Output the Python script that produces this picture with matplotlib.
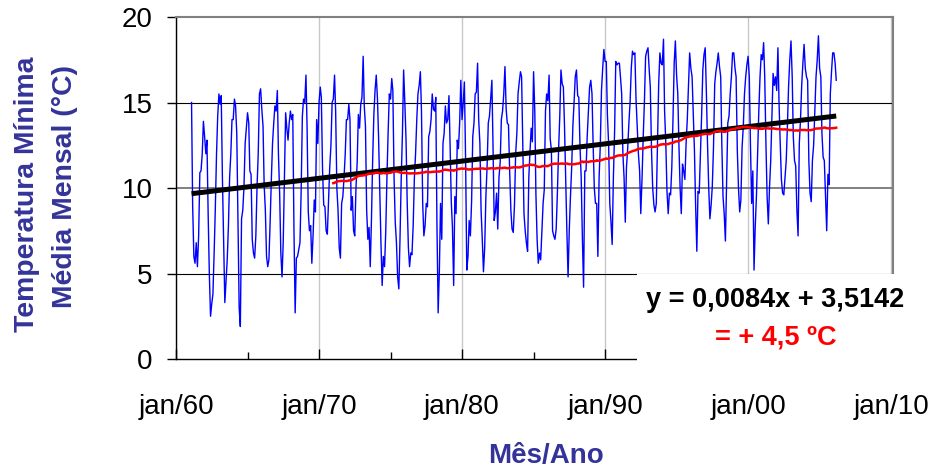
import numpy as np
import pandas as pd
import matplotlib
matplotlib.use('Agg')
import matplotlib.pyplot as plt
from matplotlib.patches import Rectangle

# temperatura minima media mensal (graus C), fev/1961 a mar/2006
tmin_1961_1970 = [
    15.0, 9.0, 6.0, 5.6, 6.8, 5.4, 7.2, 10.9, 11.0, 12.0, 13.9,           # 1961 (fev-dez)
    13.0, 12.0, 12.8, 8.5, 5.0, 2.5, 3.2, 3.8, 6.2, 8.8, 12.0, 14.2,      # 1962
    15.5, 14.9, 15.4, 10.5, 6.8, 3.3, 4.5, 5.8, 7.8, 10.6, 12.0, 14.0,    # 1963
    14.0, 15.2, 14.8, 13.2, 8.0, 3.0, 1.9, 8.2, 8.7, 10.0, 12.6, 13.5,    # 1964
    14.4, 13.8, 11.0, 10.8, 7.0, 6.2, 5.9, 7.2, 10.1, 12.0, 15.5, 15.8,   # 1965
    14.6, 13.6, 10.2, 8.7, 6.0, 5.4, 5.8, 8.0, 10.5, 12.6, 13.8, 14.8,    # 1966
    14.5, 15.7, 12.0, 9.7, 6.2, 4.8, 6.8, 10.5, 14.4, 13.5, 12.8, 13.8,   # 1967
    14.5, 14.0, 14.3, 7.5, 2.7, 5.9, 6.0, 6.4, 6.8, 9.8, 14.2, 15.2,      # 1968
    15.0, 16.6, 13.6, 8.6, 7.5, 7.8, 5.6, 7.2, 9.3, 8.6, 14.0, 12.6,      # 1969
    15.0, 15.9, 15.3, 11.0, 9.0, 8.9, 7.5, 7.3, 9.3, 11.2, 12.5, 15.0,    # 1970
]
tmin_1971_1980 = [
    15.2, 16.6, 14.5, 10.0, 8.7, 6.5, 5.9, 9.1, 9.5, 10.6, 12.0, 14.0,
    14.0, 14.9, 14.0, 8.7, 9.5, 7.5, 7.2, 10.0, 11.5, 14.3, 13.5, 14.9,
    15.3, 17.7, 14.8, 13.6, 8.7, 7.0, 7.7, 5.4, 8.2, 11.6, 14.3, 15.7,
    16.6, 15.2, 13.0, 9.7, 6.8, 4.3, 6.0, 5.4, 7.5, 10.6, 13.3, 15.5,
    15.2, 16.4, 15.7, 10.6, 8.0, 6.8, 4.8, 4.1, 7.2, 10.6, 13.2, 16.9,
    15.0, 12.8, 9.2, 6.5, 5.4, 6.2, 6.1, 7.8, 10.6, 12.0, 14.0, 15.5,
    16.0, 16.8, 14.5, 9.1, 7.2, 7.8, 9.1, 8.9, 13.0, 13.3, 14.0, 15.5,
    14.6, 14.5, 15.3, 7.7, 2.7, 5.2, 9.1, 7.0, 12.6, 13.2, 14.8, 13.8,
    14.0, 15.4, 12.6, 9.2, 7.7, 4.3, 9.5, 8.5, 12.8, 12.3, 13.8, 16.3,
    14.0, 15.0, 16.2, 11.6, 5.2, 6.0, 8.1, 7.2, 9.2, 13.0, 13.8, 15.5,
]
tmin_1981_1990 = [
    15.6, 17.3, 14.0, 12.6, 8.7, 7.0, 5.1, 6.5, 9.5, 11.2, 13.8, 14.2,
    15.2, 16.3, 12.6, 8.1, 8.6, 9.7, 7.6, 10.6, 11.5, 14.0, 14.5, 15.5,
    17.1, 14.6, 13.8, 13.7, 11.0, 8.7, 7.6, 7.4, 9.0, 12.0, 13.2, 15.5,
    16.2, 16.8, 16.5, 12.6, 8.5, 7.5, 6.8, 6.3, 10.6, 12.1, 13.5, 12.7,
    16.8, 14.5, 9.7, 7.0, 5.6, 6.2, 5.8, 7.5, 9.1, 9.9, 14.5, 15.5,
    15.1, 16.6, 12.9, 12.2, 7.5, 7.2, 7.0, 7.6, 9.7, 12.2, 14.2, 16.9,
    16.1, 15.9, 13.7, 10.6, 7.5, 4.8, 7.5, 9.5, 11.2, 13.6, 15.0, 16.5,
    16.9, 15.4, 15.3, 12.4, 10.6, 7.0, 4.2, 11.0, 11.0, 13.0, 14.5, 15.9,
    16.3, 15.5, 12.6, 10.0, 9.1, 9.1, 6.0, 10.6, 12.5, 15.7, 17.0, 18.1,
    17.4, 17.4, 14.3, 12.6, 9.1, 8.0, 6.7, 10.6, 13.3, 17.4, 17.2, 17.3,
]
tmin_1991_2000 = [
    17.3, 16.4, 15.5, 12.0, 10.6, 8.0, 11.2, 12.3, 13.8, 15.0, 17.0, 18.0,
    17.8, 17.9, 15.2, 13.5, 12.0, 11.0, 8.5, 10.5, 13.0, 15.0, 17.7, 18.0,
    18.2, 16.9, 15.9, 12.2, 10.0, 9.0, 8.6, 9.1, 12.8, 16.1, 17.9, 17.3,
    17.2, 18.7, 14.5, 12.6, 9.8, 8.5, 9.7, 9.6, 11.2, 14.0, 17.3, 18.6,
    16.6, 15.5, 12.6, 10.0, 8.5, 11.4, 11.0, 10.5, 12.6, 14.0, 15.9, 17.9,
    17.0, 16.5, 14.5, 12.2, 9.0, 6.3, 9.8, 9.7, 12.0, 14.2, 16.9, 17.8,
    18.2, 15.5, 12.6, 10.0, 8.2, 9.0, 10.1, 12.4, 16.1, 16.8, 17.3, 17.9,
    17.1, 16.5, 12.6, 9.5, 8.5, 6.9, 10.3, 13.8, 14.2, 15.5, 16.5, 17.9,
    17.9, 17.0, 16.5, 12.2, 10.0, 8.6, 9.3, 12.4, 13.6, 15.5, 16.5, 17.2,
    17.7, 16.5, 12.6, 9.1, 11.0, 5.2, 7.7, 9.5, 12.0, 14.5, 16.5, 17.8,
]
tmin_2001_2006 = [
    17.5, 18.5, 16.5, 12.6, 9.5, 7.9, 10.0, 11.6, 14.2, 16.7, 16.0, 16.5,
    15.7, 18.2, 15.0, 12.6, 10.5, 9.7, 9.6, 10.6, 11.6, 13.6, 16.0, 17.5,
    18.6, 16.5, 13.0, 11.6, 11.3, 8.7, 7.2, 12.6, 14.0, 16.0, 17.3, 18.4,
    17.0, 16.5, 16.3, 11.6, 9.7, 9.2, 11.6, 12.5, 14.5, 16.5, 17.5, 18.9,
    17.0, 16.5, 13.2, 11.8, 11.6, 9.6, 7.5, 10.8, 10.2, 15.5, 16.8, 17.9,
    17.9, 17.3, 16.3,                                                    # 2006 (jan-mar)
]
first_month = '1961-02-01'
window = 120   # media movel de 120 meses

tick_years = [1960, 1970, 1980, 1990, 2000, 2010]
tick_labels = ['jan/60', 'jan/70', 'jan/80', 'jan/90', 'jan/00', 'jan/10']
minor_years = [1965, 1975, 1985, 1995, 2005]
eq_text = 'y = 0,0084x + 3,5142'
delta_text = '= + 4,5 ºC'

tmin = np.array(tmin_1961_1970 + tmin_1971_1980 + tmin_1981_1990
                + tmin_1991_2000 + tmin_2001_2006)
dates = pd.date_range(first_month, periods=len(tmin), freq='MS')
idx = np.arange(1, len(tmin) + 1)
coef = np.polyfit(idx, tmin, 1)
trend = np.polyval(coef, idx)
media_movel = pd.Series(tmin).rolling(window).mean().values

plt.rcParams['font.family'] = ['Liberation Sans', 'DejaVu Sans']

W, H = 931, 469
fig = plt.figure(figsize=(W / 100, H / 100), dpi=100)
ax = fig.add_axes([176 / W, 1 - 359 / H, (893 - 176) / W, (359 - 17) / H])

ax.plot(dates, tmin, color='#0000FF', lw=1.0, zorder=3)
ax.plot(dates, trend, color='black', lw=3.6, zorder=4, solid_capstyle='butt')
ax.plot(dates, media_movel, color='#FF0000', lw=1.8, zorder=5)

ax.set_xlim(pd.Timestamp('1960-01-01'), pd.Timestamp('2010-02-18'))
ax.set_ylim(0, 20)
ax.set_yticks([0, 5, 10, 15, 20])
ax.set_xticks([pd.Timestamp(f'{y}-01-01') for y in tick_years])
ax.set_xticklabels(tick_labels)
ax.set_xticks([pd.Timestamp(f'{y}-01-01') for y in minor_years], minor=True)

ax.tick_params(axis='x', which='major', direction='in', length=7, width=1,
               pad=25, labelsize=20)
ax.tick_params(axis='x', which='minor', direction='in', length=5, width=1)
ax.tick_params(axis='y', direction='out', length=6.5, width=1, pad=10.5,
               labelsize=20)

ax.set_axisbelow(True)
ax.grid(axis='x', which='major', color='#C8C8C8', lw=1.0)
ax.grid(axis='y', color='black', lw=0.8)
ygl = ax.get_ygridlines()
ygl[0].set_visible(False)
ygl[-1].set_visible(False)
ygl[2].set_color('#808080')
ygl[2].set_linewidth(1.4)

for s in ['top', 'right']:
    ax.spines[s].set_color('#808080')
    ax.spines[s].set_linewidth(1.5)
for s in ['left', 'bottom']:
    ax.spines[s].set_color('black')
    ax.spines[s].set_linewidth(1.0)

# caixa branca da equacao
fig.add_artist(Rectangle((637 / W, 1 - 366 / H), (W - 637) / W, (366 - 274) / H,
                         transform=fig.transFigure, facecolor='white',
                         edgecolor='none', zorder=10))
fig.text(775 / W, 1 - 307 / H, eq_text, ha='center', va='baseline',
         fontsize=19.5, fontweight='bold', color='black', zorder=11)
fig.text(776 / W, 1 - 344 / H, delta_text, ha='center', va='baseline',
         fontsize=19.5, fontweight='bold', color='#FF0000', zorder=11)

lab_color = '#333399'
fig.text(27 / W, 1 - 194 / H, 'Temperatura Mínima', rotation=90, ha='center',
         va='center', fontsize=20.4, fontweight='bold', color=lab_color)
fig.text(65 / W, 1 - 187 / H, 'Média Mensal (°C)', rotation=90, ha='center',
         va='center', fontsize=20.4, fontweight='bold', color=lab_color)
fig.text(546 / W, 1 - 463 / H, 'Mês/Ano', ha='center', va='baseline',
         fontsize=20, fontweight='bold', color=lab_color)

fig.savefig('out.png', dpi=100)
